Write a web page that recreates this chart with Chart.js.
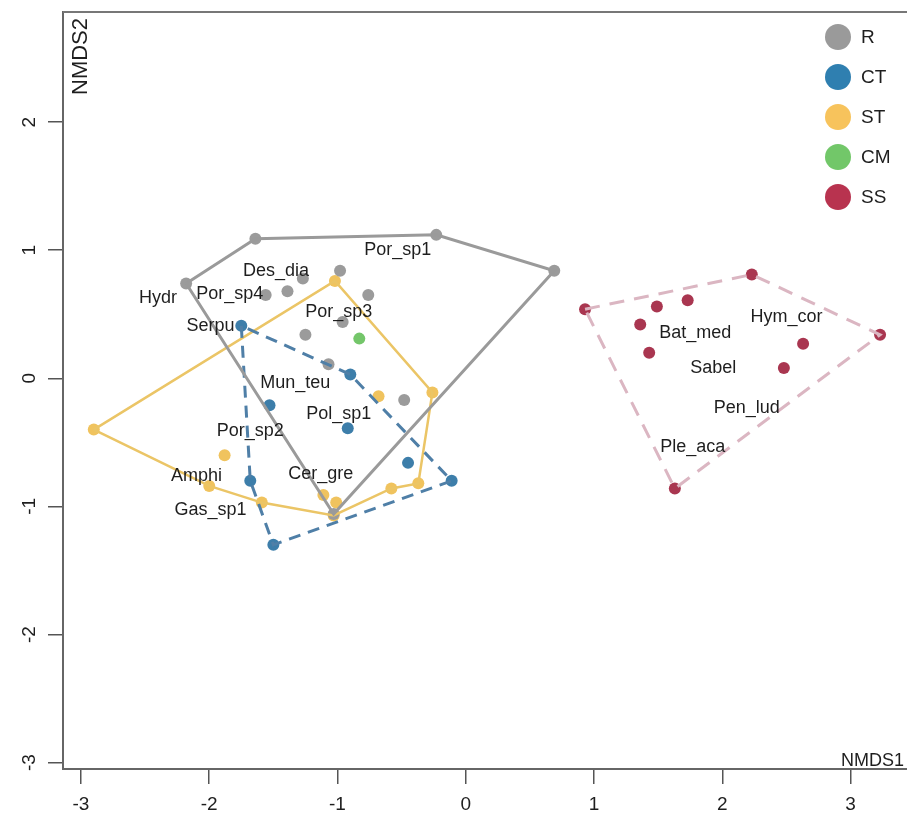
<!DOCTYPE html>
<html>
<head>
<meta charset="utf-8">
<script src="https://cdn.jsdelivr.net/npm/chart.js@4.4.1/dist/chart.umd.min.js"></script>
<style>
  html, body { margin: 0; padding: 0; background: #fff; overflow: hidden; }
  canvas { display: block; }
</style>
</head>
<body>
<canvas id="nmds" width="907" height="830" style="width:907px;height:830px"></canvas>
<script>
// ejes
const xTicks = [-3, -2, -1, 0, 1, 2, 3];
const yTicks = [-3, -2, -1, 0, 1, 2];

// grupos (sitios)
const groupNames = ['R', 'CT', 'ST', 'CM', 'SS'];

const rX = [-1.64, -0.23, 0.69, -2.18, -0.98, -1.27, -1.39, -1.56, -0.76, -0.96, -1.25, -1.07, -0.48, -1.03];
const rY = [1.09, 1.12, 0.84, 0.74, 0.84, 0.78, 0.68, 0.65, 0.65, 0.44, 0.34, 0.11, -0.17, -1.06];
const rHull = [3, 0, 1, 2, 13];

const ctX = [-1.75, -0.90, -1.53, -0.92, -1.68, -1.50, -0.45, -0.11];
const ctY = [0.41, 0.03, -0.21, -0.39, -0.80, -1.30, -0.66, -0.80];
const ctHull = [0, 4, 5, 7, 1];

const stX = [-2.90, -1.02, -0.26, -0.37, -0.58, -1.03, -1.59, -2.00, -1.88, -0.68, -1.11, -1.01];
const stY = [-0.40, 0.76, -0.11, -0.82, -0.86, -1.07, -0.97, -0.84, -0.60, -0.14, -0.91, -0.97];
const stHull = [0, 1, 2, 3, 4, 5, 6, 7];

const cmX = [-0.83];
const cmY = [0.31];

const ssX = [0.93, 2.23, 3.23, 1.63, 1.49, 1.73, 1.36, 1.43, 2.63, 2.48];
const ssY = [0.54, 0.81, 0.34, -0.86, 0.56, 0.61, 0.42, 0.20, 0.27, 0.08];
const ssHull = [0, 1, 2, 3];

// especies
const spNames = ['Por_sp1', 'Des_dia', 'Hydr', 'Por_sp4', 'Por_sp3', 'Serpu', 'Mun_teu', 'Pol_sp1',
                 'Por_sp2', 'Amphi', 'Cer_gre', 'Gas_sp1', 'Hym_cor', 'Bat_med', 'Sabel', 'Pen_lud', 'Ple_aca'];
const spX = [-0.53, -1.48, -2.40, -1.84, -0.99, -1.99, -1.33, -0.99, -1.68, -2.10, -1.13, -1.99, 2.50, 1.79, 1.93, 2.19, 1.77];
const spY = [1.00, 0.84, 0.63, 0.66, 0.52, 0.41, -0.04, -0.28, -0.41, -0.76, -0.75, -1.03, 0.48, 0.35, 0.08, -0.23, -0.54];

const FONT = "'Liberation Sans', Arial, sans-serif";
const colPts  = { R: '#9b9b9b', CT: '#3d7eaa', ST: '#f0c35e', CM: '#74c66a', SS: '#a93650' };
const colLeg  = { R: '#9a9a9a', CT: '#2f7fb0', ST: '#f7c35c', CM: '#72c769', SS: '#b8334f' };

function pts(xs, ys) { return xs.map((x, i) => ({ x: x, y: ys[i] })); }
function hull(xs, ys, idx) {
    const p = idx.map(i => ({ x: xs[i], y: ys[i] }));
    p.push({ x: xs[idx[0]], y: ys[idx[0]] });
    return p;
}

function pointSet(label, xs, ys) {
    return {
        type: 'scatter', label: label, data: pts(xs, ys), order: 2,
        pointRadius: 6, pointHoverRadius: 6,
        backgroundColor: colPts[label], borderColor: colPts[label], borderWidth: 0
    };
}
function hullSet(label, xs, ys, idx, color, width, dash) {
    return {
        type: 'line', label: label + '_hull', data: hull(xs, ys, idx), order: 1,
        showLine: true, fill: false, pointRadius: 0, tension: 0,
        borderColor: color, borderWidth: width, borderDash: dash || []
    };
}

// texto de especies, leyenda, etiquetas de ejes
const extras = {
    id: 'extras',
    afterDatasetsDraw(chart) {
        const ctx = chart.ctx, xs = chart.scales.x, ys = chart.scales.y, a = chart.chartArea;
        ctx.save();
        ctx.fillStyle = '#1e1e1e';
        ctx.font = '18px ' + FONT;
        ctx.textAlign = 'center';
        ctx.textBaseline = 'middle';
        spNames.forEach((n, i) => ctx.fillText(n, xs.getPixelForValue(spX[i]), ys.getPixelForValue(spY[i])));

        // borde superior
        ctx.strokeStyle = '#777';
        ctx.lineWidth = 2;
        ctx.beginPath();
        ctx.moveTo(a.left, a.top);
        ctx.lineTo(a.right, a.top);
        ctx.stroke();

        // leyenda
        ctx.font = '19px ' + FONT;
        ctx.textAlign = 'left';
        groupNames.forEach((g, i) => {
            const cy = a.top + 25 + i * 40;
            ctx.beginPath();
            ctx.fillStyle = colLeg[g];
            ctx.arc(a.right - 69, cy, 13, 0, Math.PI * 2);
            ctx.fill();
            ctx.fillStyle = '#1e1e1e';
            ctx.fillText(g, a.right - 46, cy + 1);
        });

        // NMDS1 / NMDS2
        ctx.font = '18px ' + FONT;
        ctx.textAlign = 'right';
        ctx.fillText('NMDS1', a.right - 3, a.bottom - 8);
        ctx.font = '22px ' + FONT;
        ctx.translate(a.left + 18, a.top + 6);
        ctx.rotate(-Math.PI / 2);
        ctx.fillText('NMDS2', 0, 0);
        ctx.restore();

        // etiquetas de los ejes (eje y girado como en R)
        ctx.save();
        ctx.font = '19px ' + FONT;
        ctx.fillStyle = '#1e1e1e';
        ctx.textAlign = 'center';
        ctx.textBaseline = 'middle';
        xs.ticks.forEach(t => {
            ctx.fillText(String(t.value), xs.getPixelForValue(t.value), a.bottom + 36);
        });
        ys.ticks.forEach(t => {
            ctx.save();
            ctx.translate(a.left - 33, ys.getPixelForValue(t.value));
            ctx.rotate(-Math.PI / 2);
            ctx.fillText(String(t.value), 0, 0);
            ctx.restore();
        });
        ctx.restore();
    }
};

new Chart(document.getElementById('nmds'), {
    type: 'scatter',
    data: {
        datasets: [
            pointSet('R', rX, rY),
            pointSet('CT', ctX, ctY),
            pointSet('ST', stX, stY),
            pointSet('CM', cmX, cmY),
            pointSet('SS', ssX, ssY),
            hullSet('R', rX, rY, rHull, '#9a9a9a', 3),
            hullSet('CT', ctX, ctY, ctHull, '#4f7fa7', 3, [12, 8]),
            hullSet('ST', stX, stY, stHull, '#ebc566', 2.5),
            hullSet('SS', ssX, ssY, ssHull, '#dbb6c2', 3, [15, 10])
        ]
    },
    options: {
        responsive: false,
        animation: false,
        layout: { autoPadding: false, padding: { top: 12, right: 0, left: 0, bottom: 0 } },
        plugins: { legend: { display: false }, tooltip: { enabled: false } },
        scales: {
            x: {
                type: 'linear', min: -3.14, max: 3.44,
                afterBuildTicks: s => { s.ticks = xTicks.map(v => ({ value: v })); },
                afterFit: s => { s.height = 61; },
                grid: { drawOnChartArea: false, drawTicks: true, tickLength: 15, tickColor: '#555', lineWidth: 1.5 },
                border: { display: true, color: '#666', width: 2 },
                ticks: { display: false }
            },
            y: {
                type: 'linear', min: -3.05, max: 2.86,
                afterBuildTicks: s => { s.ticks = yTicks.map(v => ({ value: v })); },
                afterFit: s => { s.width = 63; },
                grid: { drawOnChartArea: false, drawTicks: true, tickLength: 15, tickColor: '#555', lineWidth: 1.5 },
                border: { display: true, color: '#666', width: 2 },
                ticks: { display: false }
            }
        }
    },
    plugins: [extras]
});
</script>
</body>
</html>
